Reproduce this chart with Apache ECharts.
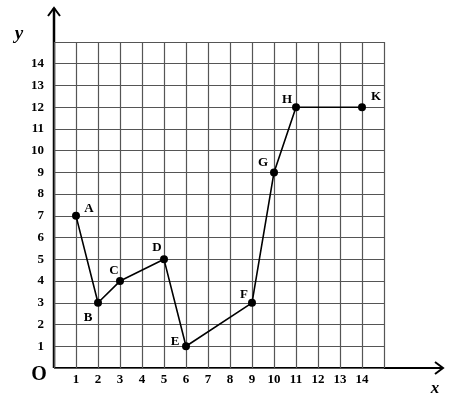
<!DOCTYPE html>
<html><head><meta charset="utf-8">
<script src="https://cdn.jsdelivr.net/npm/echarts@6/dist/echarts.min.js"></script>
<style>html,body{margin:0;padding:0;background:#fff}#c{width:449px;height:400px}</style>
</head><body><div id="c"></div>
<script>
const pointNames = ['A','B','C','D','E','F','G','H','K'];
const xValues = [1,2,3,5,6,9,10,11,14];
const yValues = [7,3,4,5,1,3,9,12,12];
const xTickLabels = ['1','2','3','4','5','6','7','8','9','10','11','12','13','14'];
const yTickLabels = ['1','2','3','4','5','6','7','8','9','10','11','12','13','14'];

const labelOffsets = {A:[13,-7],B:[-10,15],C:[-6,-10],D:[-7,-12],E:[-11,-5],F:[-8,-8],G:[-11,-10],H:[-9,-8],K:[14,-11]};
const FONT = '"Liberation Serif","Times New Roman",serif';

const chart = echarts.init(document.getElementById('c'));
const data = pointNames.map((n,i)=>({
  value:[xValues[i], yValues[i]], name:n,
  label:{show:true, formatter:n, position:'inside', offset:labelOffsets[n]}
}));
const gL=54, gR=384, gT=42, gB=368;
chart.setOption({
  animation:false,
  grid:{left:gL, right:449-gR, top:gT, bottom:400-gB},
  xAxis:{type:'value', min:0, max:15, interval:1,
    axisLine:{show:false}, axisTick:{show:false},
    splitLine:{show:true, lineStyle:{color:'#555', width:1.2}},
    axisLabel:{margin:5, fontFamily:FONT, fontWeight:'bold', fontSize:13, color:'#000',
      formatter:v=>{const s=String(v);return xTickLabels.includes(s)?s:'';}}},
  yAxis:{type:'value', min:0, max:15, interval:1,
    axisLine:{show:false}, axisTick:{show:false},
    splitLine:{show:true, lineStyle:{color:'#555', width:1.2}},
    axisLabel:{margin:10, fontFamily:FONT, fontWeight:'bold', fontSize:13, color:'#000',
      formatter:v=>{const s=String(v);return yTickLabels.includes(s)?s:'';}}},
  series:[{type:'line', data:data, symbol:'circle', symbolSize:8,
    lineStyle:{color:'#000', width:1.6}, itemStyle:{color:'#000'},
    label:{fontFamily:FONT, fontWeight:'bold', fontSize:13, color:'#000'}}],
  graphic:[
    {type:'line', shape:{x1:gL,y1:gB,x2:443,y2:gB}, style:{stroke:'#000',lineWidth:2}},
    {type:'polyline', shape:{points:[[435,gB-6],[443,gB],[435,gB+6]]}, style:{stroke:'#000',lineWidth:2,fill:null}},
    {type:'line', shape:{x1:gL,y1:gB,x2:gL,y2:8}, style:{stroke:'#000',lineWidth:2.5}},
    {type:'polyline', shape:{points:[[gL-6,16],[gL,8],[gL+6,16]]}, style:{stroke:'#000',lineWidth:2,fill:null}},
    {type:'text', style:{text:'O', x:39, y:375, align:'center', verticalAlign:'middle', font:'bold 20px '+FONT, fill:'#000'}},
    {type:'text', style:{text:'y', x:19, y:34, align:'center', verticalAlign:'middle', font:'italic bold 19px '+FONT, fill:'#000'}},
    {type:'text', style:{text:'x', x:435, y:389, align:'center', verticalAlign:'middle', font:'italic bold 17px '+FONT, fill:'#000'}}
  ]
});
</script></body></html>
